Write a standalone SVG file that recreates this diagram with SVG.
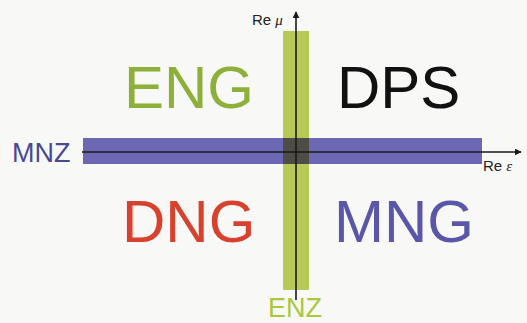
<svg xmlns="http://www.w3.org/2000/svg" width="527" height="323" viewBox="0 0 527 323">
<defs>
<style>
text{font-family:"Liberation Sans",Arial,sans-serif}
.big{font-size:60px}
.axis{stroke:#1a1a1a;stroke-width:1.6;fill:none}
.lbl{font-size:15px;fill:#222}
</style>
<marker id="arr" viewBox="0 0 10 10" refX="9" refY="5" markerWidth="7" markerHeight="7" orient="auto" markerUnits="userSpaceOnUse">
<path d="M0,0 L10,5 L0,10 Z" fill="#1a1a1a"/>
</marker>
</defs>
<rect width="527" height="323" fill="#f8f8f6"/>
<g id="bands">
<rect id="enz-band" x="283" y="31" width="26" height="259" fill="#b9c957"/>
<rect id="mnz-band" x="83" y="138" width="399" height="26" fill="#6b67b3"/>
<rect x="283" y="138" width="26" height="26" fill="#4d4d45"/>
</g>
<g id="connectors">
<line class="axis" x1="82" y1="152" x2="521" y2="152" marker-end="url(#arr)"/>
<line class="axis" x1="296" y1="300" x2="296" y2="12" marker-end="url(#arr)"/>
</g>
<g id="ENG"><text class="big" x="124" y="108" fill="#8cb03a">ENG</text></g>
<g id="DPS"><text class="big" x="337" y="108" fill="#111">DPS</text></g>
<g id="DNG"><text class="big" x="122" y="242" fill="#d8412e">DNG</text></g>
<g id="MNG"><text class="big" x="334" y="242" fill="#5b57a8">MNG</text></g>
<g id="MNZ"><text x="12" y="162" font-size="27" fill="#4a4893">MNZ</text></g>
<g id="ENZ"><text x="268" y="317" font-size="27" fill="#a8c93c">ENZ</text></g>
<g id="axis-labels">
<text class="lbl" x="252" y="25">Re <tspan font-family="'Liberation Serif',serif" font-style="italic">μ</tspan></text>
<text class="lbl" x="483" y="171">Re <tspan font-family="'Liberation Serif',serif" font-style="italic">ε</tspan></text>
</g>
</svg>
